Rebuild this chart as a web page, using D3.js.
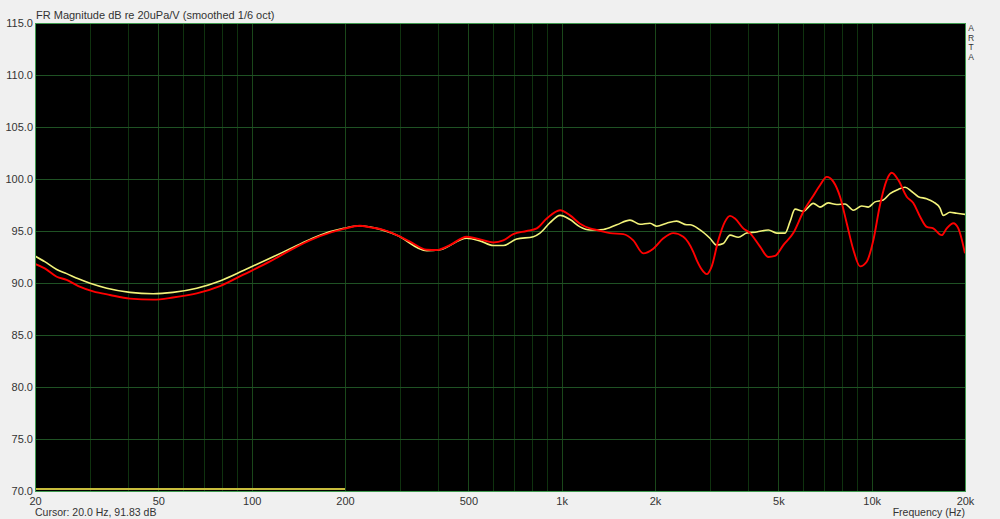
<!DOCTYPE html>
<html>
<head>
<meta charset="utf-8">
<script src="https://cdn.jsdelivr.net/npm/d3@7"></script>
<style>
  html, body { margin:0; padding:0; background:#f0f0f0; }
  svg { display:block; }
</style>
</head>
<body>
<script>
// measured curves (Hz, dB)
const redFreq = [20,21.5,23.5,25.3,27.6,30.8,34.9,40.5,48.1,55.7,66.5,79,94,115,140,166,198,223,241,266,294,324,367,395,436,494,545,602,648,698,771,831,895,988,1064,1146,1234,1297,1432,1580,1702,1833,1975,2128,2292,2468,2658,2726,2864,2936,3048,3200,3364,3492,3624,3854,4050,4364,4642,4878,5188,5586,6018,6482,6812,7162,7520,7906,8308,8726,9172,9638,10122,10636,11180,11604,12186,12970,13622,14316,15048,15800,16820,17460,18340,19032,20000];
const redDb   = [91.83,91.4,90.6,90.3,89.7,89.2,88.85,88.5,88.4,88.6,89.0,89.7,90.8,92.1,93.5,94.5,95.2,95.5,95.35,95.1,94.6,93.97,93.2,93.17,93.65,94.45,94.2,93.9,94.1,94.7,95.0,95.25,96.2,97.0,96.5,95.7,95.25,95.1,94.8,94.7,94.1,92.85,93.3,94.3,94.8,94.45,93.0,92.2,91.1,90.85,91.6,94.1,95.9,96.45,96.2,95.25,94.8,93.5,92.5,92.6,93.65,94.8,96.85,98.4,99.4,100.2,99.75,98.3,95.75,93.2,91.6,92.05,94.1,97.5,99.9,100.6,99.9,98.3,97.7,96.4,95.4,95.25,94.6,95.25,95.75,95.25,92.85];

const yelFreq = [20,21.5,23.5,25.3,27.6,30.1,34.1,40.5,48.1,55.7,66.5,79,94,115,140,166,198,223,253,294,367,405,494,545,602,648,716,810,851,917,988,1064,1146,1234,1363,1505,1661,1789,1927,2026,2182,2350,2532,2594,2794,3008,3162,3322,3492,3714,3952,4256,4642,4940,5254,5452,5658,6018,6482,6812,7244,7712,8204,8726,9288,9754,10250,10902,11460,12186,12810,13460,14140,15048,15800,16612,17022,17890,18806,20000];
const yelDb   = [92.6,92.05,91.3,90.9,90.4,89.97,89.5,89.1,88.97,89.1,89.5,90.2,91.2,92.4,93.6,94.6,95.25,95.5,95.25,94.6,93.1,93.2,94.3,94.05,93.6,93.6,94.23,94.45,94.8,95.8,96.5,96.1,95.4,95.1,95.15,95.6,96.05,95.65,95.75,95.45,95.75,95.95,95.6,95.6,95.1,94.3,93.65,93.8,94.6,94.4,94.8,94.9,95.1,94.8,94.8,95.9,97.1,96.9,97.66,97.3,97.7,97.55,97.6,97.0,97.4,97.3,97.8,97.98,98.6,99.0,99.2,98.8,98.3,98.1,97.8,97.2,96.5,96.8,96.7,96.6];

// short trace sitting on the floor of the plot
const floorFreq = [20,200];
const floorDb   = [70.2,70.2];

const xTicks = [20,50,100,200,500,1000,2000,5000,10000,20000];
const xGrid  = [30,40,50,60,70,80,90,100,200,300,400,500,600,700,800,900,1000,2000,3000,4000,5000,6000,7000,8000,9000,10000];
const yTicks = [70,75,80,85,90,95,100,105,110,115];

const chartTitle = 'FR Magnitude dB re 20uPa/V (smoothed 1/6 oct)';
const cursorText = 'Cursor: 20.0 Hz, 91.83 dB';
const xAxisLabel = 'Frequency (Hz)';
const brand = 'ARTA';

const svgWid = 1000, svgHt = 519;
const margin = {top:23, right:35, bottom:28, left:35};
const innerW = svgWid - margin.left - margin.right;
const innerH = svgHt - margin.top - margin.bottom;
const font = '"Liberation Sans", Arial, sans-serif';

const svg = d3.select('body').append('svg').attr('width', svgWid).attr('height', svgHt)
    .style('font-family', font);

svg.append('rect').attr('width', svgWid).attr('height', svgHt).attr('fill', '#f0f0f0');

const g = svg.append('g').attr('transform', `translate(${margin.left},${margin.top})`);

var xScale = d3.scaleLog().domain([20, 20000]).range([0, innerW]);
var yScale = d3.scaleLinear().domain([70, 115]).range([innerH, 0]);

// black plot area
g.append('rect').attr('width', innerW).attr('height', innerH).attr('fill', '#000');

// grid
var labelled = new Set(xTicks);
const vGrid = g.append('g').call(d3.axisBottom(xScale).tickValues(xGrid).tickSize(innerH).tickFormat(''));
vGrid.select('.domain').remove();
vGrid.selectAll('.tick line').attr('stroke', d => labelled.has(d) ? '#1a471a' : '#0f320f').attr('shape-rendering', 'crispEdges');

const hGrid = g.append('g').call(d3.axisLeft(yScale).tickValues(yTicks.slice(1, -1)).tickSize(-innerW).tickFormat(''));
hGrid.select('.domain').remove();
hGrid.selectAll('.tick line').attr('stroke', '#1f5224').attr('shape-rendering', 'crispEdges');

// axis labels
var yAxisG = g.append('g').call(d3.axisLeft(yScale).tickValues(yTicks).tickSize(0).tickPadding(2).tickFormat(d3.format('.1f')));
yAxisG.select('.domain').remove();
yAxisG.selectAll('text').attr('fill', '#333').attr('font-size', '11px').attr('font-family', font);

var xFormat = d => d >= 1000 ? (d / 1000) + 'k' : String(d);
var xAxisG = g.append('g').attr('transform', `translate(0,${innerH})`)
    .call(d3.axisBottom(xScale).tickValues(xTicks).tickSize(0).tickPadding(6).tickFormat(xFormat));
xAxisG.select('.domain').remove();
xAxisG.selectAll('text').attr('fill', '#333').attr('font-size', '11px').attr('font-family', font);

// curves
g.append('clipPath').attr('id', 'plotClip').append('rect').attr('width', innerW).attr('height', innerH);
const lines = g.append('g').attr('clip-path', 'url(#plotClip)');

var line = d3.line().x(d => xScale(d[0])).y(d => yScale(d[1])).curve(d3.curveMonotoneX);

lines.append('path').datum(d3.zip(floorFreq, floorDb))
    .attr('d', line).attr('fill', 'none').attr('stroke', '#c8bc3c').attr('stroke-width', 2);
lines.append('path').datum(d3.zip(yelFreq, yelDb))
    .attr('d', line).attr('fill', 'none').attr('stroke', '#f2f27a').attr('stroke-width', 1.6);
lines.append('path').datum(d3.zip(redFreq, redDb))
    .attr('d', line).attr('fill', 'none').attr('stroke', '#ff0000').attr('stroke-width', 1.9);

// frame
g.append('rect').attr('width', innerW).attr('height', innerH).attr('fill', 'none')
    .attr('stroke', '#3f9a4f').attr('stroke-width', 1).attr('shape-rendering', 'crispEdges');

// texts
svg.append('text').text(chartTitle).attr('x', margin.left + 1).attr('y', 19)
    .attr('font-size', '11px').attr('fill', '#333');
svg.append('text').text(cursorText).attr('x', margin.left).attr('y', 516)
    .attr('font-size', '10.5px').attr('fill', '#333');
svg.append('text').text(xAxisLabel).attr('x', margin.left + innerW).attr('y', 516)
    .attr('text-anchor', 'end').attr('font-size', '10.5px').attr('fill', '#333');

// vertical brand, letters stacked
svg.append('g').selectAll('text').data(brand.split('')).enter().append('text')
    .text(d => d).attr('x', margin.left + innerW + 6).attr('y', (d, i) => 31 + i * 9.6)
    .attr('text-anchor', 'middle').attr('font-size', '8.5px').attr('fill', '#333');
</script>
</body>
</html>
